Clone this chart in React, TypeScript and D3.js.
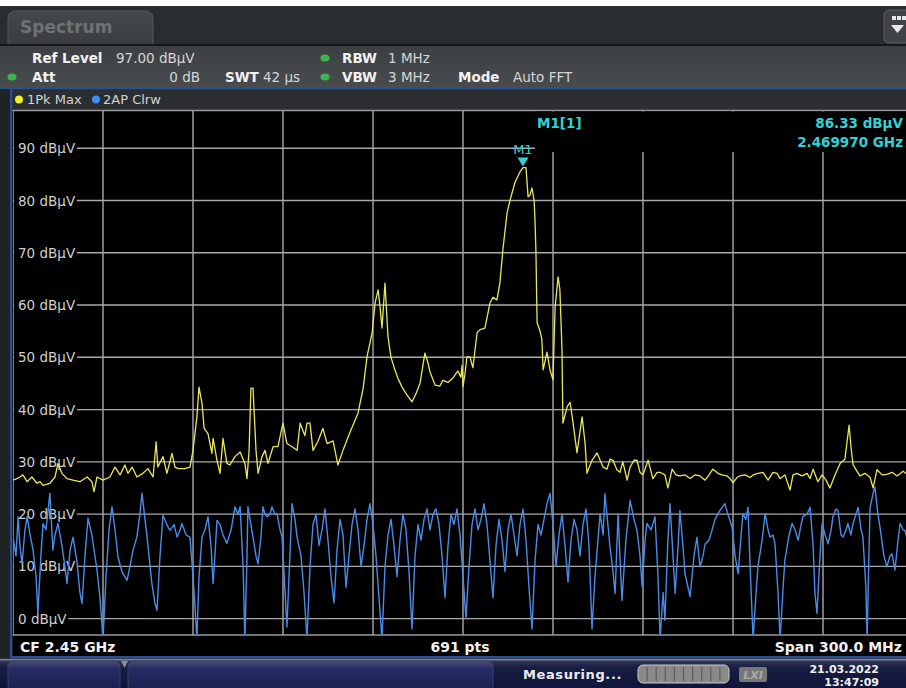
import React, { useEffect } from "react";
import * as d3 from "d3";

const W = 906;
const H = 688;

// Level grid (dBµV) and frequency grid (MHz)
const levelTicks = [0, 10, 20, 30, 40, 50, 60, 70, 80, 90];
const freqGrid = [2300, 2330, 2360, 2390, 2420, 2450, 2480, 2510, 2540, 2570, 2600];

// Trace 1: 1Pk Max (yellow)
const yellowFreq = [
  2300.0, 2301.3, 2302.3, 2303.3, 2304.7, 2306.3, 2308.0, 2309.0, 2310.0, 2312.3, 2314.0, 2315.0, 2316.3, 2318.0, 2320.0,
  2322.3, 2324.7, 2326.3, 2327.0, 2328.0, 2330.0, 2332.3, 2334.0, 2335.7, 2337.3, 2338.3, 2339.7, 2341.3, 2343.3, 2345.0,
  2346.7, 2347.7, 2348.3, 2350.0, 2351.3, 2353.0, 2354.0, 2355.0, 2357.3, 2359.0, 2360.0, 2361.3, 2362.0, 2363.0, 2363.7,
  2365.0, 2366.3, 2366.7, 2368.0, 2369.0, 2370.0, 2371.3, 2372.3, 2374.0, 2375.7, 2377.3, 2378.0, 2378.7, 2379.3, 2380.0,
  2381.0, 2381.7, 2383.0, 2384.0, 2385.0, 2386.7, 2388.3, 2390.0, 2391.3, 2393.0, 2394.7, 2395.7, 2397.3, 2398.0, 2399.0,
  2400.0, 2401.7, 2403.3, 2404.7, 2406.7, 2408.3, 2410.0, 2412.3, 2415.0, 2416.7, 2418.0, 2419.7, 2420.7, 2421.7, 2422.3,
  2423.0, 2424.0, 2425.0, 2426.0, 2427.3, 2428.3, 2429.7, 2431.3, 2433.0, 2434.3, 2435.7, 2437.3, 2438.3, 2439.0, 2440.7,
  2442.3, 2443.3, 2445.0, 2446.7, 2448.3, 2449.3, 2449.7, 2450.0, 2450.7, 2451.3, 2452.3, 2453.3, 2454.7, 2455.7, 2457.3,
  2459.0, 2460.0, 2461.3, 2462.3, 2463.3, 2464.7, 2465.7, 2467.3, 2469.0, 2470.0, 2471.0, 2471.7, 2472.3, 2473.0, 2473.7,
  2474.0, 2474.3, 2474.7, 2475.7, 2476.3, 2476.7, 2478.0, 2479.0, 2480.0, 2480.7, 2481.7, 2482.3, 2483.0, 2483.3, 2484.7,
  2485.7, 2486.7, 2488.0, 2489.7, 2490.7, 2491.3, 2493.0, 2494.7, 2495.7, 2496.7, 2498.0, 2499.0, 2500.0, 2501.3, 2502.3,
  2503.3, 2504.7, 2505.7, 2507.0, 2508.0, 2509.0, 2510.0, 2511.7, 2513.3, 2514.7, 2515.7, 2517.3, 2518.3, 2519.7, 2521.0,
  2522.3, 2524.0, 2525.7, 2527.3, 2529.0, 2530.7, 2532.0, 2533.3, 2535.0, 2536.3, 2538.0, 2539.0, 2540.0, 2541.3, 2542.3,
  2544.0, 2545.7, 2546.7, 2548.3, 2550.0, 2551.7, 2553.3, 2554.7, 2555.7, 2557.3, 2559.0, 2560.0, 2561.3, 2563.0, 2564.7,
  2565.7, 2566.7, 2568.3, 2569.7, 2571.0, 2572.3, 2574.0, 2575.7, 2577.3, 2578.7, 2579.3, 2580.0, 2581.0, 2582.3, 2584.0,
  2585.7, 2586.7, 2588.0, 2589.7, 2591.3, 2593.0, 2594.7, 2596.7, 2598.3, 2600.0,
];
const yellowLevel = [
  26.5, 26.8, 27.1, 27.5, 26.2, 27.1, 25.9, 26.2, 25.5, 25.9, 27.1, 29.7, 27.8, 26.8, 26.5,
  26.2, 27.1, 26.2, 24.3, 27.1, 26.5, 27.1, 29.0, 27.5, 29.4, 27.8, 29.0, 27.1, 27.8, 28.7,
  27.1, 33.8, 29.0, 31.0, 27.8, 31.6, 29.0, 28.7, 28.7, 29.0, 32.2, 38.6, 44.3, 41.2, 36.4,
  35.4, 31.6, 34.5, 30.3, 27.8, 34.5, 29.7, 29.4, 31.0, 31.9, 29.7, 26.8, 32.2, 44.1, 44.1,
  32.2, 27.8, 31.0, 32.2, 29.7, 32.9, 32.9, 37.4, 33.5, 32.9, 32.2, 37.4, 35.0, 37.4, 37.4,
  32.2, 34.0, 36.4, 33.5, 34.0, 29.4, 32.2, 35.6, 39.3, 44.0, 50.1, 54.7, 60.4, 62.9, 60.0,
  55.6, 64.2, 53.9, 50.0, 47.6, 46.0, 44.3, 42.8, 41.5, 43.0, 45.1, 50.8, 49.0, 47.2, 44.7,
  44.5, 45.6, 45.2, 46.1, 47.4, 46.2, 48.5, 44.4, 47.0, 50.1, 50.1, 48.0, 54.7, 55.3, 55.6,
  60.4, 61.5, 61.0, 64.2, 70.6, 77.7, 80.1, 83.4, 85.5, 86.3, 86.3, 80.7, 81.0, 82.4, 80.0,
  76.3, 70.6, 56.6, 55.0, 53.4, 47.6, 51.0, 47.6, 45.7, 59.6, 65.4, 62.9, 51.4, 37.4, 40.5,
  41.4, 37.4, 31.7, 38.6, 33.5, 27.8, 30.3, 31.7, 30.3, 29.0, 28.6, 30.5, 30.3, 28.5, 28.0,
  30.0, 26.5, 29.0, 30.3, 30.3, 28.0, 27.5, 30.3, 26.8, 28.0, 28.0, 27.5, 25.0, 28.6, 27.5,
  27.3, 27.5, 26.8, 27.5, 27.3, 26.5, 27.5, 28.6, 27.8, 27.5, 27.3, 26.8, 26.0, 27.0, 27.3,
  27.5, 27.0, 27.5, 27.8, 28.0, 26.5, 28.0, 27.8, 26.8, 27.5, 24.6, 27.5, 27.8, 27.3, 27.8,
  26.8, 28.6, 26.2, 27.5, 26.5, 25.0, 27.5, 29.7, 30.5, 37.0, 33.0, 29.5, 28.5, 27.3, 27.8,
  27.0, 25.0, 28.5, 27.5, 27.6, 28.0, 27.3, 28.2, 27.5, 27.8,
];

// Trace 2: AP Clrw (blue)
const blueFreq = [
  2300.0, 2301.0, 2301.7, 2302.3, 2303.0, 2304.0, 2304.7, 2305.7, 2306.7, 2307.7, 2308.3, 2309.3, 2310.0, 2311.0, 2312.3,
  2313.3, 2314.0, 2315.0, 2316.3, 2317.3, 2318.0, 2319.0, 2320.0, 2321.3, 2322.3, 2323.0, 2324.0, 2325.0, 2326.3, 2327.3,
  2328.0, 2329.0, 2330.0, 2331.0, 2332.0, 2333.0, 2334.0, 2335.0, 2336.3, 2338.0, 2339.0, 2340.0, 2341.3, 2342.3, 2343.0,
  2344.0, 2344.7, 2345.7, 2346.3, 2347.3, 2348.0, 2349.0, 2350.0, 2351.3, 2352.3, 2353.7, 2354.7, 2355.7, 2356.3, 2357.7,
  2359.0, 2360.0, 2360.7, 2361.3, 2362.0, 2363.0, 2364.0, 2365.0, 2366.0, 2366.7, 2367.3, 2368.0, 2369.0, 2370.0, 2371.3,
  2372.7, 2374.0, 2375.0, 2375.7, 2376.7, 2377.3, 2378.0, 2378.3, 2379.3, 2380.0, 2381.0, 2381.7, 2382.7, 2383.3, 2384.0,
  2384.7, 2385.7, 2386.3, 2387.3, 2388.0, 2389.0, 2389.7, 2390.7, 2391.3, 2392.3, 2393.0, 2394.0, 2394.7,
  2396, 2397, 2398, 2399, 2400, 2401, 2402, 2403, 2404, 2405, 2406, 2407, 2408, 2409, 2410, 2411, 2412, 2413, 2414, 2415,
  2416, 2417, 2418, 2419, 2420, 2421, 2422, 2423, 2424, 2425, 2426, 2427, 2428, 2429, 2430, 2431, 2432, 2433, 2434, 2435,
  2436, 2437, 2438, 2439, 2440, 2441, 2442, 2443, 2444, 2445, 2446, 2447, 2448, 2449, 2450, 2451, 2452, 2453, 2454, 2455,
  2456, 2457, 2458, 2459, 2460, 2461, 2462, 2463, 2464, 2465, 2466, 2467, 2468, 2469, 2470, 2471, 2472, 2473, 2474, 2475,
  2476, 2477, 2478, 2479, 2480, 2481, 2482, 2483, 2484, 2485, 2486, 2487, 2488, 2489, 2490, 2491, 2492, 2493, 2494,
  2495.7, 2496.7, 2497.3, 2498.3, 2499.0, 2500.0, 2500.7, 2501.7, 2502.3, 2503.0, 2504.3, 2505.7, 2507.0, 2508.0, 2509.0,
  2509.7, 2510.7, 2511.3, 2512.7, 2514.0, 2515.0, 2515.7, 2516.7, 2517.3, 2518.3, 2519.0, 2520.0, 2520.7, 2521.7, 2522.3,
  2523.3, 2524.0, 2525.0, 2525.7, 2527.0, 2528.0, 2529.0, 2530.0, 2530.7, 2532.0, 2533.0, 2534.0, 2535.0, 2536.0, 2537.3,
  2538.3, 2539.7, 2540.7, 2541.7, 2542.7, 2543.3, 2544.3, 2545.0, 2545.7, 2546.7, 2547.7, 2548.3, 2549.7, 2550.7, 2551.7,
  2552.3, 2553.3, 2554.0, 2555.0, 2555.7, 2556.7, 2557.3, 2558.7, 2559.7, 2560.7, 2561.7, 2562.7, 2563.3, 2564.7, 2565.7,
  2566.7, 2567.3, 2568.0, 2569.0, 2569.7, 2570.7, 2571.7, 2572.7, 2573.3, 2574.3, 2575.0, 2576.0, 2576.7, 2577.7, 2578.3,
  2579.3, 2580.0, 2581.0, 2581.7, 2582.7, 2583.3, 2584.3, 2584.7, 2585.3, 2585.7, 2586.7, 2587.3, 2588.3, 2589.0, 2590.3,
  2591.3, 2592.3, 2593.0, 2594.0, 2595.0, 2595.7, 2596.7, 2597.3, 2598.7, 2600.0,
];
const blueLevel = [
  15.6, 12.0, 19.5, 14.0, 10.5, 17.0, 19.5, 16.0, 13.1, 8.0, 1.0, 12.0, 18.2, 17.0, 24.0,
  13.1, 16.0, 18.2, 14.0, 10.0, 6.7, 13.0, 15.6, 11.0, 5.0, 2.9, 12.0, 19.2, 16.0, 12.0,
  9.3, 4.0, -4.0, 8.0, 17.0, 21.4, 17.0, 11.8, 9.0, 7.3, 10.0, 13.1, 15.6, 20.0, 24.0,
  19.0, 15.6, 10.0, 6.7, 3.0, 1.6, 12.0, 19.8, 18.0, 16.9, 18.0, 15.6, 17.0, 18.2, 16.0,
  15.6, 8.0, 2.0, -4.0, 8.0, 15.6, 17.0, 19.5, 14.0, 6.7, 12.0, 18.8, 18.0, 16.0, 14.4,
  17.0, 21.4, 20.0, 21.4, 10.0, -4.0, 12.0, 21.4, 18.0, 15.6, 12.0, 10.5, 16.0, 21.4, 20.0,
  19.5, 20.0, 21.4, 20.0, 20.1, 17.0, 15.6, 5.0, -1.6, 12.0, 22.0, 19.0, 15.6,
  12, 5, -4, 10, 18, 20, 14, 17, 21, 15, 8, 3, 13, 19, 16, 6, 12, 18, 21, 17,
  10, 14, 19, 22, 18, 12, 4, -4, 10, 16, 19, 14, 8, 15, 20, 17, 9, -2, 12, 18,
  15, 19, 21, 17, 20, 21, 18, 12, 4, 14, 20, 18, 21, 16, 8, 0, 10, 18, 21, 17,
  19, 22, 18, 11, 4, 14, 19, 15, 9, 17, 20, 16, 12, 18, 21, 15, 6, -2, 11, 18,
  16, 19, 22, 24, 18, 10, 16, 20, 14, 7, 15, 19, 17, 12, 18, 21, 14, -2, 8,
  20.1, 16.0, 23.9, 18.0, 13.7, 9.0, 4.8, 20.1, 12.0, 3.5, 15.0, 22.6, 19.0, 16.9, 12.0,
  6.1, 15.0, 18.2, 17.0, 19.5, 8.0, -4.0, 5.0, -0.3, 15.0, 22.0, 12.0, 4.8, 14.0, 20.7,
  14.0, 8.6, 6.0, 4.2, 12.0, 15.6, 9.9, 12.0, 14.3, 15.0, 16.9, 19.0, 20.1, 21.0, 22.0,
  20.0, 17.5, 12.0, 8.6, 16.0, 20.1, 19.0, 21.3, 10.0, -4.0, 5.0, 9.9, 15.0, 20.1, 17.0,
  15.6, 16.0, 14.3, 5.0, -4.0, 6.0, 11.2, 16.0, 18.2, 17.0, 15.0, 18.0, 19.5, 20.0, 21.3,
  14.0, 5.0, 1.0, 12.0, 18.2, 16.0, 14.3, 17.0, 19.5, 21.0, 20.7, 16.0, 15.6, 17.0, 18.2,
  16.0, 18.2, 20.0, 21.3, 17.0, 15.6, 6.0, -4.0, 12.0, 21.3, 24.0, 25.2, 20.0, 17.5, 12.0,
  9.9, 12.0, 12.4, 9.3, 15.0, 18.2, 17.0, 16.9, 14.0, 15.0,
];

const marker = { name: "M1", trace: 1, freqMHz: 2469.97, level: 86.33 };

const FONT = "'DejaVu Sans', Verdana, sans-serif";

export default function App() {
  useEffect(() => {
    document.body.style.margin = "0";
    document.body.style.background = "#ffffff";
  }, []);

  const plotLeft = 13;
  const plotRight = 913;
  const plotTop = 110.5;
  const plotBottom = 635;

  const x = d3.scaleLinear().domain([2300, 2600]).range([plotLeft, plotRight]);
  const y = d3.scaleLinear().domain([-3, 97]).range([634.3, 111.7]);

  const line = d3
    .line<[number, number]>()
    .x((d) => x(d[0]))
    .y((d) => y(d[1]));

  const yellowPath = line(yellowFreq.map((f, i) => [f, yellowLevel[i]]) as [number, number][]) || "";
  const bluePath = line(blueFreq.map((f, i) => [f, blueLevel[i]]) as [number, number][]) || "";

  const mx = x(marker.freqMHz);
  const my = y(marker.level);

  const labelColor = "#cfcfcf";
  const gridColor = "#a9a9a9";
  const cyan = "#33d1d4";

  return (
    <svg width={W} height={H} viewBox={`0 0 ${W} ${H}`} style={{ display: "block", fontFamily: FONT }}>
      <defs>
        <clipPath id="plotClip">
          <rect x={plotLeft} y={plotTop} width={W - plotLeft} height={plotBottom - plotTop} />
        </clipPath>
        <linearGradient id="hdrGrad" x1="0" y1="0" x2="0" y2="1">
          <stop offset="0" stopColor="#3c4043" />
          <stop offset="1" stopColor="#484c4f" />
        </linearGradient>
        <linearGradient id="tabGrad" x1="0" y1="0" x2="0" y2="1">
          <stop offset="0" stopColor="#44484b" />
          <stop offset="1" stopColor="#3a3e41" />
        </linearGradient>
        <linearGradient id="skGrad" x1="0" y1="0" x2="0" y2="1">
          <stop offset="0" stopColor="#4a4f78" />
          <stop offset="0.25" stopColor="#262c62" />
          <stop offset="1" stopColor="#1b2050" />
        </linearGradient>
        <linearGradient id="barGrad" x1="0" y1="0" x2="0" y2="1">
          <stop offset="0" stopColor="#3a3f5e" />
          <stop offset="0.3" stopColor="#181d42" />
          <stop offset="1" stopColor="#10143a" />
        </linearGradient>
      </defs>

      {/* window background */}
      <rect x={0} y={0} width={W} height={H} fill="#2a2d30" />
      <rect x={0} y={0} width={W} height={6} fill="#ffffff" />

      {/* Spectrum tab */}
      <path
        d={`M8,45 L8,19 Q8,11 16,11 L145,11 Q153,11 153,19 L153,45 Z`}
        fill="url(#tabGrad)"
        stroke="#55595c"
        strokeWidth={1}
      />
      <text x={20} y={33} fontSize={17} fontWeight="bold" fill="#6e7275">
        Spectrum
      </text>

      {/* top-right menu button */}
      <rect x={884} y={10} width={30} height={33} rx={5} fill="#3f4346" stroke="#5d6164" />
      {[0, 1, 2].map((i) => (
        <rect key={i} x={892 + i * 5} y={16} width={4} height={4} fill="#e8e8e8" />
      ))}
      <path d="M891,25 L904,25 L897.5,33 Z" fill="#e8e8e8" />

      {/* header panel */}
      <rect x={0} y={44} width={W} height={2} fill="#161819" />
      <rect x={0} y={46} width={W} height={41} fill="url(#hdrGrad)" />
      <g fontSize={13.5}>
        <text x={32} y={63} fontWeight="bold" fill="#f2f2f2">Ref Level</text>
        <text x={116} y={63} fill="#d6d6d6">97.00 dBµV</text>
        <ellipse cx={325} cy={58} rx={4.5} ry={3.5} fill="#3fb34f" />
        <text x={342} y={63} fontWeight="bold" fill="#f2f2f2">RBW</text>
        <text x={388} y={63} fill="#d6d6d6">1 MHz</text>

        <ellipse cx={12} cy={77} rx={4.5} ry={3.5} fill="#3fb34f" />
        <text x={32} y={82} fontWeight="bold" fill="#f2f2f2">Att</text>
        <text x={200} y={82} textAnchor="end" fill="#d6d6d6">0 dB</text>
        <text x={225} y={82} fontWeight="bold" fill="#f2f2f2">SWT</text>
        <text x={263} y={82} fill="#d6d6d6">42 µs</text>
        <ellipse cx={325} cy={77} rx={4.5} ry={3.5} fill="#3fb34f" />
        <text x={342} y={82} fontWeight="bold" fill="#f2f2f2">VBW</text>
        <text x={388} y={82} fill="#d6d6d6">3 MHz</text>
        <text x={458} y={82} fontWeight="bold" fill="#f2f2f2">Mode</text>
        <text x={513} y={82} fill="#d6d6d6">Auto FFT</text>
      </g>

      {/* blue frame */}
      <rect x={0} y={87} width={W} height={2.5} fill="#2c4f92" />
      <rect x={0} y={89} width={10} height={571} fill="#1f2326" />
      <rect x={10} y={88} width={2.5} height={571} fill="#2c4f92" />

      {/* legend row */}
      <rect x={12.5} y={89.5} width={W} height={20.5} fill="#2b2e31" />
      <circle cx={19} cy={99.5} r={4} fill="#f2ee2a" />
      <text x={27} y={104} fontSize={13} fill="#d2d2d2">1Pk Max</text>
      <circle cx={96} cy={99.5} r={4} fill="#3d8ef0" />
      <text x={103} y={104} fontSize={13} fill="#d2d2d2">2AP Clrw</text>

      {/* plot area */}
      <rect x={12.5} y={plotTop} width={W} height={657 - plotTop} fill="#000000" />
      <line x1={12.5} x2={W} y1={plotTop} y2={plotTop} stroke="#9a9a9a" strokeWidth={1.5} />
      <line x1={12.5} x2={W} y1={plotBottom} y2={plotBottom} stroke="#9a9a9a" strokeWidth={1.5} />

      <g clipPath="url(#plotClip)">
        {freqGrid.map((f) => (
          <line key={"v" + f} x1={x(f)} x2={x(f)} y1={plotTop} y2={plotBottom} stroke={gridColor} strokeWidth={1.4} />
        ))}
        {levelTicks.map((v) => (
          <line key={"h" + v} x1={plotLeft} x2={plotRight} y1={y(v)} y2={y(v)} stroke={gridColor} strokeWidth={1.4} />
        ))}
        {/* marker info area masks the grid */}
        <rect x={535} y={plotTop + 1} width={W} height={152 - plotTop - 1} fill="#000000" />
        {levelTicks.map((v) => {
          const label = `${v} dBµV`;
          return (
            <g key={"l" + v}>
              <rect x={14} y={y(v) - 7} width={label.length * 8.55 + 3} height={14} fill="#000000" />
              <text x={18} y={y(v) + 5} fontSize={13.5} fill={labelColor}>
                {label}
              </text>
            </g>
          );
        })}
        <path d={bluePath} fill="none" stroke="#4a8be8" strokeWidth={1.4} strokeLinejoin="round" />
        <path d={yellowPath} fill="none" stroke="#e9e65c" strokeWidth={1.3} strokeLinejoin="round" />
      </g>

      {/* marker */}
      <text x={mx} y={154} fontSize={13} textAnchor="middle" fill={cyan}>
        {marker.name}
      </text>
      <path d={`M${mx - 5.5},${my - 10} L${mx + 5.5},${my - 10} L${mx},${my - 1} Z`} fill={cyan} />
      <text x={537} y={128} fontSize={13.5} fontWeight="bold" fill={cyan}>
        {`${marker.name}[${marker.trace}]`}
      </text>
      <text x={903} y={128} fontSize={13.5} fontWeight="bold" textAnchor="end" fill={cyan}>
        {`${marker.level.toFixed(2)} dBµV`}
      </text>
      <text x={903} y={147} fontSize={13.5} fontWeight="bold" textAnchor="end" fill={cyan}>
        {`${(marker.freqMHz / 1000).toFixed(6)} GHz`}
      </text>

      {/* footer row */}
      <g fontSize={14} fontWeight="bold" fill="#f0f0f0">
        <text x={20} y={652}>CF 2.45 GHz</text>
        <text x={460} y={652} textAnchor="middle">691 pts</text>
        <text x={902} y={652} textAnchor="end">Span 300.0 MHz</text>
      </g>
      <rect x={10} y={656} width={W} height={2.5} fill="#2c4f92" />

      {/* softkey / status bar */}
      <rect x={0} y={658.5} width={W} height={H - 658.5} fill="url(#barGrad)" />
      <rect x={0} y={659} width={W} height={1.5} fill="#7d8090" />
      <rect x={8} y={661} width={112} height={30} rx={5} fill="url(#skGrad)" stroke="#3a3f66" />
      <path d="M121,661 L128,661 L124.5,668 Z" fill="#8a8d9a" />
      <rect x={128} y={661} width={365} height={30} rx={5} fill="url(#skGrad)" stroke="#3a3f66" />
      <text x={523} y={679} fontSize={13} fontWeight="bold" fill="#ececec" letterSpacing={0.6}>
        Measuring...
      </text>
      <rect x={638} y={665} width={91} height={18} rx={5} fill="#8a8a8a" stroke="#c8c8c8" strokeWidth={1} />
      {d3.range(1, 10).map((i) => (
        <line key={"pb" + i} x1={638 + i * 9.1} x2={638 + i * 9.1} y1={667} y2={681} stroke="#5c5c5c" strokeWidth={1.2} />
      ))}
      <rect x={739} y={667} width={28} height={15} rx={2} fill="#777777" />
      <text x={753} y={679} fontSize={11} fontStyle="italic" fontWeight="bold" textAnchor="middle" fill="#a9a9a9">
        LXI
      </text>
      <g fontSize={11} fontWeight="bold" fill="#f0f0f0" textAnchor="end">
        <text x={879} y={673}>21.03.2022</text>
        <text x={879} y={686}>13:47:09</text>
      </g>
    </svg>
  );
}
